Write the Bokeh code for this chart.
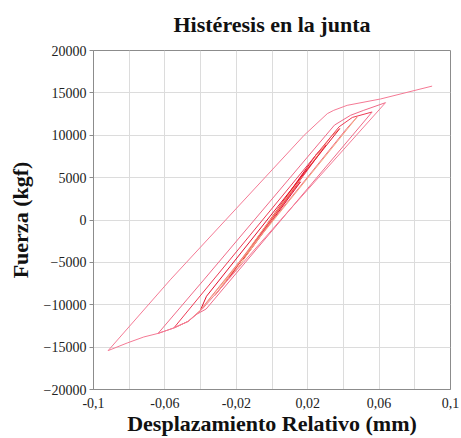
from bokeh.plotting import figure
from bokeh.models import FixedTicker, Range1d, LinearAxis
from bokeh.embed import file_html
from bokeh.resources import INLINE

# ---- data: hysteresis branches (displacement mm, force kgf) ----
ini_x = [0.000, 0.010]
ini_y = [0, 3000]

unl0_x = [0.010, -0.009, -0.012]
unl0_y = [3000, -2500, -3400]
rel0_x = [-0.012, 0.013, 0.016]
rel0_y = [-3400, 3800, 4500]
unl0b_x = [0.016, -0.013, -0.016]
unl0b_y = [4500, -3800, -4600]
rel0b_x = [-0.016, 0.018, 0.022]
rel0b_y = [-4600, 5600, 6600]

unl1_x = [0.022, -0.019, -0.024]
unl1_y = [6600, -5600, -6800]
rel1_x = [-0.024, 0.025, 0.030]
rel1_y = [-6800, 7800, 8800]

unl2_x = [0.030, -0.027, -0.032]
unl2_y = [8800, -7600, -8900]
rel2_x = [-0.032, 0.033, 0.038]
rel2_y = [-8900, 9800, 10800]

unl3_x = [0.038, -0.0367, -0.040]
unl3_y = [10800, -9000, -10590]
rel3_x = [-0.040, 0.0419, 0.0477]
rel3_y = [-10590, 10800, 12157]

unl4_x = [0.0477, -0.0394, -0.047, -0.055]
unl4_y = [12157, -10500, -11965, -12740]
rel4_x = [-0.055, 0.0376, 0.045, 0.0561]
rel4_y = [-12740, 11000, 12100, 12745]

unl5_x = [0.0561, -0.0369, -0.042, -0.047, -0.055, -0.0638]
unl5_y = [12745, -10500, -11100, -11965, -12740, -13380]
rel5_x = [-0.0638, -0.0382, 0.035, 0.044, 0.0514, 0.0636]
rel5_y = [-13380, -7059, 11200, 12353, 12941, 13847]

unl6_x = [0.0636, 0.0048, -0.039, -0.047, -0.055, -0.0638, -0.0718, -0.0811, -0.0918]
unl6_y = [13847, 0, -10500, -11965, -12740, -13380, -13800, -14509, -15412]
rel6_x = [-0.0918, -0.057, 0.018, 0.031, 0.0346, 0.0421, 0.0608, 0.0897]
rel6_y = [-15412, -7059, 10000, 12550, 12941, 13529, 14280, 15800]

branches = [
    (ini_x, ini_y, "#e3102e"),
    (unl0_x, unl0_y, "#e3102e"),
    (rel0_x, rel0_y, "#ee3a55"),
    (unl0b_x, unl0b_y, "#e3102e"),
    (rel0b_x, rel0b_y, "#e3102e"),
    (unl1_x, unl1_y, "#f5a77c"),
    (rel1_x, rel1_y, "#e3102e"),
    (unl2_x, unl2_y, "#ee3a55"),
    (rel2_x, rel2_y, "#f5a77c"),
    (unl3_x, unl3_y, "#e3102e"),
    (rel3_x, rel3_y, "#f06a88"),
    (unl4_x, unl4_y, "#f5a77c"),
    (rel4_x, rel4_y, "#ee3a55"),
    (unl5_x, unl5_y, "#f06a88"),
    (rel5_x, rel5_y, "#f06a88"),
    (unl6_x, unl6_y, "#f57a95"),
    (rel6_x, rel6_y, "#f57a95"),
]

x_ticks = [-0.1, -0.06, -0.02, 0.02, 0.06, 0.1]
x_minor = [-0.08, -0.04, 0.0, 0.04, 0.08]
x_labels = ["-0,1", "-0,06", "-0,02", "0,02", "0,06", "0,1"]
y_ticks = [-20000, -15000, -10000, -5000, 0, 5000, 10000, 15000, 20000]
title_text = "Histéresis en la junta"

p = figure(width=461, height=438, output_backend="svg", toolbar_location=None,
           x_range=Range1d(-0.1, 0.1), y_range=Range1d(-20000, 20000),
           min_border_left=93, min_border_right=11, min_border_top=50, min_border_bottom=48)

for xs, ys, c in branches:
    p.line(xs, ys, line_color=c, line_width=1.0)

xax = p.below[0]
yax = p.left[0]

# title drawn as the label of a bare axis above the frame
title_axis = LinearAxis(ticker=FixedTicker(ticks=[]), axis_label=title_text)
title_axis.axis_line_color = None
title_axis.major_tick_line_color = None
title_axis.minor_tick_line_color = None
title_axis.major_tick_out = 0
title_axis.major_tick_in = 0
title_axis.major_label_standoff = 0
title_axis.major_label_text_font_size = "0px"
title_axis.axis_label_standoff = 14
title_axis.axis_label_text_font = "Liberation Serif"
title_axis.axis_label_text_font_size = "22px"
title_axis.axis_label_text_font_style = "bold"
title_axis.axis_label_text_color = "#111111"
p.add_layout(title_axis, "above")

xax.ticker = FixedTicker(ticks=x_ticks, minor_ticks=x_minor)
xax.major_label_overrides = {t: l for t, l in zip(x_ticks, x_labels)}
yax.ticker = FixedTicker(ticks=y_ticks)

for ax in (xax, yax):
    ax.axis_line_color = "#8c8c8c"
    ax.major_tick_line_color = "#8c8c8c"
    ax.minor_tick_line_color = None
    ax.major_label_text_font = "Liberation Serif"
    ax.major_label_text_font_size = "14px"
    ax.major_label_text_color = "#222222"
    ax.axis_label_text_font = "Liberation Serif"
    ax.axis_label_text_font_size = "22px"
    ax.axis_label_text_font_style = "bold"
    ax.axis_label_text_color = "#111111"

xax.major_tick_out = 0
xax.major_tick_in = 0
xax.major_label_standoff = 4
xax.axis_label_standoff = 0
xax.axis_label = "Desplazamiento Relativo (mm)"

yax.major_tick_out = 4
yax.major_tick_in = 0
yax.major_label_standoff = 3
yax.axis_label_standoff = 8
yax.axis_label = "Fuerza (kgf)"

p.xgrid.grid_line_color = "#dcdcdc"
p.xgrid.minor_grid_line_color = "#dcdcdc"
p.ygrid.grid_line_color = "#dcdcdc"
p.outline_line_color = "#8c8c8c"
p.background_fill_color = "white"
p.border_fill_color = "white"

open("out.html", "w").write(file_html(p, INLINE))
